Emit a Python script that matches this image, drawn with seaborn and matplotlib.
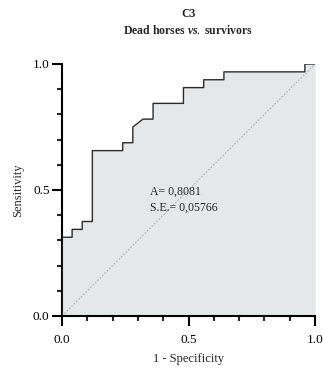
import matplotlib
matplotlib.use("Agg")
import matplotlib.pyplot as plt
import seaborn as sns
import pandas as pd
from matplotlib.ticker import MultipleLocator

# ROC curve points (1 - specificity, sensitivity)
fpr = [0.00, 0.00, 0.04, 0.04, 0.08, 0.08, 0.12, 0.12, 0.24, 0.24, 0.28, 0.28,
       0.32, 0.36, 0.36, 0.48, 0.48, 0.56, 0.56, 0.64, 0.64, 0.96, 0.96, 1.00]
tpr = [0.00, 0.3125, 0.3125, 0.34375, 0.34375, 0.375, 0.375, 0.65625, 0.65625,
       0.6875, 0.6875, 0.75, 0.78125, 0.78125, 0.84375, 0.84375, 0.90625,
       0.90625, 0.9375, 0.9375, 0.96875, 0.96875, 1.0, 1.0]
area_text = "A= 0,8081"
se_text = "S.E.= 0,05766"
tick_values = [0.0, 0.5, 1.0]
tick_labels = ["0.0", "0.5", "1.0"]

sns.set_style("ticks")
plt.rcParams["font.family"] = ["Liberation Serif", "DejaVu Serif"]
plt.rcParams["mathtext.fontset"] = "custom"
plt.rcParams["mathtext.rm"] = "Liberation Serif"
plt.rcParams["mathtext.bf"] = "Liberation Serif:bold"
plt.rcParams["mathtext.it"] = "Liberation Serif:italic:bold"

df = pd.DataFrame({"fpr": fpr, "tpr": tpr})

fig = plt.figure(figsize=(3.23, 3.69), dpi=100)
ax = fig.add_axes([62 / 323, 53 / 369, 253 / 323, 252 / 369])

ax.fill_between(df["fpr"], df["tpr"], 0, color="#e6e7e8", linewidth=0, zorder=1)
ax.plot([0, 1], [0, 1], linestyle=(0, (1.5, 1.5)), color="#b0b0b0",
        linewidth=0.8, zorder=2)
sns.lineplot(data=df, x="fpr", y="tpr", sort=False, estimator=None,
             color="#2b2b2b", linewidth=1.0, ax=ax, zorder=3)

ax.set_xlim(0, 1)
ax.set_ylim(0, 1)
ax.set_xticks(tick_values)
ax.set_xticklabels(tick_labels)
ax.set_yticks(tick_values)
ax.set_yticklabels(tick_labels)
ax.xaxis.set_minor_locator(MultipleLocator(0.1))
ax.yaxis.set_minor_locator(MultipleLocator(0.1))
ax.tick_params(which="major", length=7, width=1.5, labelsize=9.5,
               colors="black")
ax.tick_params(which="minor", length=3.5, width=1.5)
ax.tick_params(axis="x", which="major", pad=6)
ax.tick_params(axis="y", which="major", pad=2)
for side in ("left", "bottom"):
    ax.spines[side].set_linewidth(1.5)
    ax.spines[side].set_color("black")
sns.despine(ax=ax)
ax.set_xlabel("1 - Specificity", fontsize=9, labelpad=5)
ax.set_ylabel("Sensitivity", fontsize=9, labelpad=6)

ax.text(0.348, 0.495, area_text, fontsize=8.5, va="center", ha="left", zorder=4)
ax.text(0.348, 0.43, se_text, fontsize=8.5, va="center", ha="left", zorder=4)

fig.text(0.583, 0.962, "C3", fontsize=8.5, fontweight="bold", ha="center", va="center")
fig.text(0.583, 0.916, r"$\mathbf{Dead\ horses\ }\mathit{vs.}\mathbf{\;survivors}$",
         fontsize=8.5, ha="center", va="center")

fig.savefig("out.png", dpi=100)
